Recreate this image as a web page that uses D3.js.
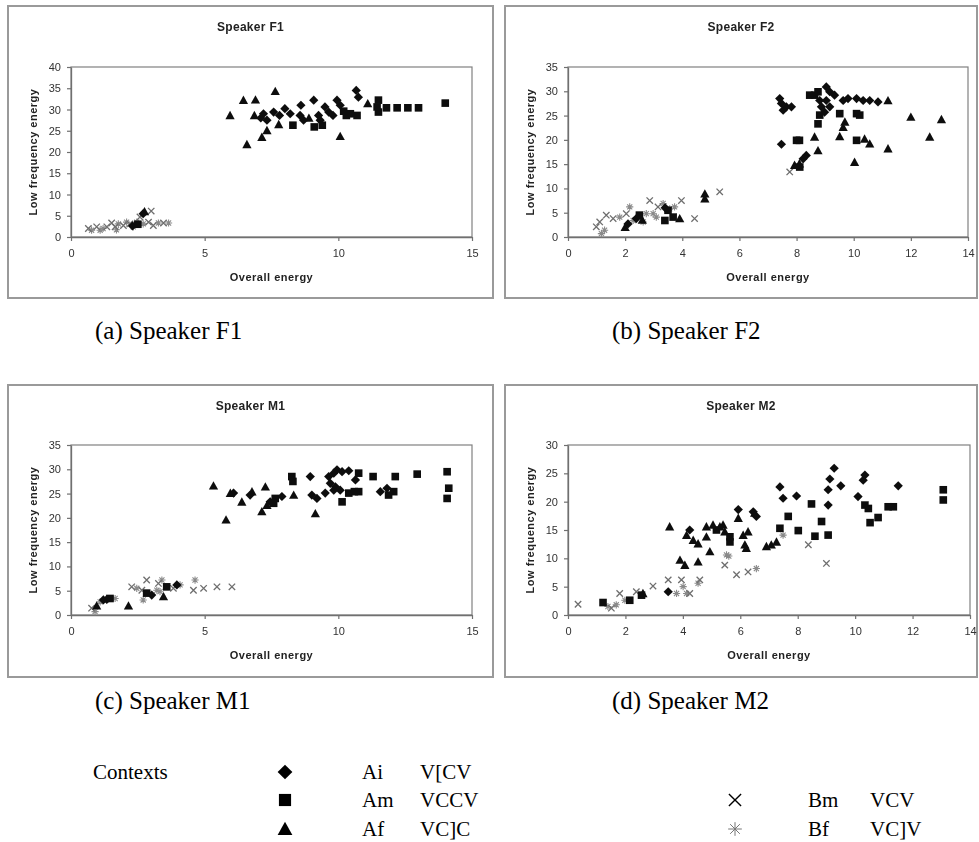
<!DOCTYPE html>
<html>
<head>
<meta charset="utf-8">
<script src="https://cdn.jsdelivr.net/npm/d3@7"></script>
<style>
  body { margin: 0; background: #fff; }
  svg { display: block; }
</style>
</head>
<body>
<svg id="fig" width="979" height="842"></svg>
<script>
// Overall energy (x) vs low-frequency energy (y) for each speaker and context.
// Contexts: Ai = V[CV, Am = VCCV, Af = VC]C, Bm = VCV, Bf = VC]V

const F1_Ai = [[7.2,29.0],[7.33,27.5],[7.58,29.4],[7.8,28.6],[8.0,30.2],[8.2,29.0],[8.57,28.6],[8.6,31.0],[8.7,27.5],[9.26,28.6],[9.32,27.5],[9.5,30.6],[9.64,29.4],[9.8,28.6],[9.95,32.2],[10.07,31.0],[10.67,34.5],[10.75,32.9],[9.08,32.2],[7.1,28.0],[2.7,5.5],[2.3,2.6]];
const F1_Am = [[14.0,31.5],[13.0,30.4],[12.6,30.4],[12.2,30.4],[11.8,30.4],[11.5,32.2],[11.45,30.6],[11.5,29.4],[10.45,29.0],[10.3,28.6],[10.7,28.6],[8.3,26.3],[9.1,25.9],[9.4,26.3],[10.2,29.6],[2.5,3.0]];
const F1_Af = [[5.95,28.6],[6.45,32.2],[6.9,32.3],[7.64,34.3],[6.58,21.8],[10.07,23.7],[7.77,26.5],[7.14,23.5],[7.33,25.1],[11.1,31.4],[6.86,28.6],[8.9,28.0],[2.75,6.0]];
const F1_Bm = [[0.65,2.0],[0.96,2.4],[1.34,2.4],[1.65,2.4],[1.96,2.7],[2.2,3.1],[2.58,4.7],[3.0,6.1],[3.08,2.7],[3.46,3.3],[1.52,3.3],[2.9,3.5]];
const F1_Bf = [[0.77,1.6],[1.09,1.6],[1.7,1.7],[1.77,3.1],[2.08,3.5],[2.46,3.5],[2.7,3.1],[3.27,3.3],[3.65,3.3],[2.33,2.4],[1.2,2.0]];

const F2_Ai = [[7.41,28.5],[7.47,27.5],[7.64,26.8],[7.82,26.8],[7.53,26.1],[7.47,19.1],[8.23,16.1],[8.34,16.8],[8.81,28.1],[8.87,26.8],[9.04,28.1],[9.16,26.8],[9.04,30.9],[9.16,29.9],[9.33,29.2],[9.63,28.1],[9.8,28.5],[10.1,28.5],[10.33,28.1],[10.56,28.1],[10.85,27.8],[8.98,25.7],[2.1,2.7],[2.39,3.8],[3.4,6.0]];
const F2_Am = [[8.0,19.9],[8.1,19.9],[8.75,23.3],[8.46,29.2],[8.63,29.2],[8.75,29.9],[8.81,25.1],[9.51,25.4],[10.1,25.4],[10.21,25.1],[10.1,19.9],[8.11,14.4],[3.39,3.4],[3.68,4.1],[2.5,4.5],[3.5,5.5]];
const F2_Af = [[8.63,20.6],[8.75,17.8],[9.63,22.6],[9.69,23.7],[9.51,20.7],[10.38,20.2],[10.56,19.2],[10.03,15.4],[11.2,18.2],[11.2,28.1],[12.0,24.7],[12.66,20.6],[13.07,24.2],[7.93,14.8],[8.1,15.1],[4.79,7.9],[4.79,8.9],[2.0,2.0],[3.91,3.8],[2.6,3.5]];
const F2_Bm = [[0.99,2.1],[1.34,4.5],[1.58,3.8],[2.04,4.8],[2.51,4.1],[2.86,7.5],[3.15,6.2],[3.97,7.5],[4.43,3.8],[5.31,9.3],[7.76,13.4],[1.11,3.1]];
const F2_Bf = [[1.28,1.4],[1.17,0.7],[1.81,4.1],[2.16,6.2],[2.28,3.4],[2.63,3.1],[2.74,4.8],[2.98,4.8],[3.33,6.9],[3.56,5.8],[3.73,6.2],[3.09,4.1]];

const M1_Ai = [[8.95,28.5],[9.01,24.7],[9.2,24.0],[9.51,25.1],[9.64,28.5],[9.83,29.2],[9.95,29.9],[10.14,29.5],[10.39,29.7],[9.7,27.1],[9.89,26.4],[9.83,25.7],[10.07,25.7],[10.64,27.8],[11.57,25.4],[11.82,26.1],[6.08,25.1],[6.7,24.7],[7.45,23.3],[7.89,24.4],[1.21,3.1],[1.34,3.2],[3.96,6.2],[3.02,4.1]];
const M1_Am = [[8.26,28.5],[8.3,27.5],[10.14,23.3],[10.39,25.1],[10.6,25.4],[10.76,29.2],[10.76,25.4],[11.3,28.5],[11.88,24.7],[12.07,25.4],[12.13,28.5],[12.95,29.0],[14.07,29.5],[14.13,26.1],[14.07,24.0],[7.58,23.0],[7.64,24.0],[1.46,3.4],[3.58,5.8],[2.83,4.5]];
const M1_Af = [[5.33,26.6],[5.8,19.6],[5.96,25.1],[6.39,23.3],[6.77,25.4],[7.27,26.4],[7.14,21.3],[7.33,22.6],[8.33,24.7],[9.14,20.9],[0.96,1.9],[2.15,1.9],[3.46,3.8]];
const M1_Bm = [[0.77,1.4],[2.27,5.8],[2.65,5.1],[2.83,7.2],[3.27,6.5],[3.83,5.5],[4.58,5.1],[5.46,5.8],[6.02,5.8],[4.96,5.5]];
const M1_Bf = [[0.9,0.7],[1.09,2.7],[1.65,3.4],[2.46,5.5],[2.7,3.1],[3.21,5.1],[3.4,7.2],[4.08,6.2],[4.64,7.2],[3.33,4.8]];

const M2_Ai = [[7.38,22.6],[7.49,20.6],[7.96,21.0],[9.06,19.4],[9.06,22.1],[9.12,24.0],[9.27,25.9],[9.5,22.8],[10.1,20.9],[10.28,23.8],[10.34,24.7],[11.5,22.8],[5.93,18.6],[6.45,18.2],[3.49,4.1],[4.24,15.0],[6.56,17.4]];
const M2_Am = [[7.38,15.3],[7.67,17.4],[8.02,14.9],[8.48,19.6],[8.6,13.9],[8.83,16.5],[9.06,14.1],[10.34,19.4],[10.46,18.8],[10.52,16.3],[10.8,17.2],[11.15,19.1],[11.33,19.1],[13.07,22.1],[13.07,20.3],[5.64,13.8],[5.64,12.9],[1.22,2.2],[2.56,3.5],[2.15,2.6],[5.17,15.0]];
const M2_Af = [[3.54,15.6],[3.9,9.7],[4.07,8.8],[4.13,14.1],[4.36,13.2],[4.53,12.6],[4.53,9.4],[4.82,13.8],[4.94,11.2],[4.82,15.6],[5.05,15.9],[5.29,15.6],[5.4,15.9],[5.46,14.7],[5.93,17.1],[6.1,14.1],[6.16,12.4],[6.21,11.8],[6.27,14.7],[6.91,12.1],[7.08,12.4],[7.26,12.9],[6.5,18.0],[2.61,3.8]];
const M2_Bm = [[0.35,1.9],[1.8,3.8],[2.38,4.1],[2.96,5.1],[3.49,6.2],[3.95,6.2],[4.24,3.8],[4.59,6.2],[5.46,8.8],[5.87,7.1],[6.27,7.6],[9.0,9.1],[8.37,12.4],[1.51,1.2]];
const M2_Bf = [[1.39,1.5],[1.68,1.8],[1.98,2.6],[3.78,3.8],[4.01,5.0],[4.13,3.8],[4.53,5.6],[5.52,10.6],[6.56,8.2],[7.49,14.1],[5.6,10.4]];

// Tick labels
const xTicks15 = [0, 5, 10, 15];
const xTicks14 = [0, 2, 4, 6, 8, 10, 12, 14];
const yTicks40 = [0, 5, 10, 15, 20, 25, 30, 35, 40];
const yTicks35 = [0, 5, 10, 15, 20, 25, 30, 35];
const yTicks30 = [0, 5, 10, 15, 20, 25, 30];

// Legend entries
const contextCodes = ["Ai", "Am", "Af", "Bm", "Bf"];
const contextLabels = ["V[CV", "VCCV", "VC]C", "VCV", "VC]V"];

const titles = ["Speaker F1", "Speaker F2", "Speaker M1", "Speaker M2"];
const captions = ["(a) Speaker F1", "(b) Speaker F2", "(c) Speaker M1", "(d) Speaker M2"];
const xAxisTitle = "Overall energy";
const yAxisTitle = "Low frequency energy";

// ---------------------------------------------------------------
const svg = d3.select("#fig");
const defs = svg.append("defs");
defs.append("filter").attr("id", "soft")
  .attr("x", "-5%").attr("y", "-5%").attr("width", "110%").attr("height", "110%")
  .append("feGaussianBlur").attr("stdDeviation", 0.75);

// marker shapes, scaled by s
function markerPath(code, s) {
  switch (code) {
    case "Ai": return `M0,${-4.6*s}L${4.6*s},0L0,${4.6*s}L${-4.6*s},0Z`;
    case "Am": return `M${-3.8*s},${-3.8*s}h${7.6*s}v${7.6*s}h${-7.6*s}Z`;
    case "Af": return `M0,${-4.6*s}L${4.6*s},${3.8*s}L${-4.6*s},${3.8*s}Z`;
    case "Bm": { const r = 3.2*s; return `M${-r},${-r}L${r},${r}M${-r},${r}L${r},${-r}`; }
    case "Bf": { const r = 3.6*s, d = r*0.7071;
      return `M0,${-r}V${r}M${-r},0H${r}M${-d},${-d}L${d},${d}M${-d},${d}L${d},${-d}`; }
  }
}
const markerStyle = {
  Ai: {fill: "#0a0a0a", stroke: "none", sw: 0},
  Am: {fill: "#0a0a0a", stroke: "none", sw: 0},
  Af: {fill: "#0a0a0a", stroke: "none", sw: 0},
  Bm: {fill: "none", stroke: "#6e6e6e", sw: 1.3},
  Bf: {fill: "none", stroke: "#8a8a8a", sw: 1.1}
};

const panels = [
  { frame: [8, 6, 485, 292], plot: [71, 67, 401, 170], xDomain: [0, 15], xTicks: xTicks15, yDomain: [0, 40], yTicks: yTicks40,
    series: {Bf: F1_Bf, Bm: F1_Bm, Af: F1_Af, Am: F1_Am, Ai: F1_Ai}, cap: [95, 339] },
  { frame: [505, 6, 472, 292], plot: [568, 67, 400, 170], xDomain: [0, 14], xTicks: xTicks14, yDomain: [0, 35], yTicks: yTicks35,
    series: {Bf: F2_Bf, Bm: F2_Bm, Af: F2_Af, Am: F2_Am, Ai: F2_Ai}, cap: [612, 339] },
  { frame: [8, 385, 485, 292], plot: [71, 445, 401, 170], xDomain: [0, 15], xTicks: xTicks15, yDomain: [0, 35], yTicks: yTicks35,
    series: {Bf: M1_Bf, Bm: M1_Bm, Af: M1_Af, Am: M1_Am, Ai: M1_Ai}, cap: [95, 709] },
  { frame: [505, 385, 472, 292], plot: [568, 445, 402, 170], xDomain: [0, 14], xTicks: xTicks14, yDomain: [0, 30], yTicks: yTicks30,
    series: {Bf: M2_Bf, Bm: M2_Bm, Af: M2_Af, Am: M2_Am, Ai: M2_Ai}, cap: [612, 709] }
];

panels.forEach((p, i) => {
  const [fx, fy, fw, fh] = p.frame;
  const [px, py, pw, ph] = p.plot;

  // outer chart frame
  svg.append("rect")
    .attr("x", fx).attr("y", fy).attr("width", fw).attr("height", fh)
    .attr("fill", "#fff").attr("stroke", "#9a9a9a").attr("stroke-width", 2);

  const g = svg.append("g").attr("filter", "url(#soft)");

  const x = d3.scaleLinear().domain(p.xDomain).range([px, px + pw]);
  const y = d3.scaleLinear().domain(p.yDomain).range([py + ph, py]);

  // plot area border
  g.append("rect")
    .attr("x", px).attr("y", py).attr("width", pw).attr("height", ph)
    .attr("fill", "none").attr("stroke", "#808080").attr("stroke-width", 1.2);

  const xAxis = g.append("g").attr("transform", `translate(0,${py + ph})`)
    .call(d3.axisBottom(x).tickValues(p.xTicks).tickSize(4).tickSizeOuter(0).tickPadding(8));
  const yAxis = g.append("g").attr("transform", `translate(${px},0)`)
    .call(d3.axisLeft(y).tickValues(p.yTicks).tickSize(4).tickSizeOuter(0).tickPadding(6));
  [xAxis, yAxis].forEach(a => {
    a.select(".domain").attr("stroke", "#707070").attr("stroke-width", 1.3);
    a.selectAll(".tick line").attr("stroke", "#707070").attr("stroke-width", 1.2);
    a.selectAll(".tick text")
      .attr("fill", "#333").attr("font-family", "Liberation Sans, Arial, sans-serif").attr("font-size", 11);
  });

  // titles
  g.append("text")
    .attr("x", fx + fw / 2).attr("y", fy + 25)
    .attr("text-anchor", "middle")
    .attr("font-family", "Liberation Sans, Arial, sans-serif").attr("font-weight", "bold")
    .attr("font-size", 12).attr("fill", "#222").attr("letter-spacing", 0.3)
    .text(titles[i]);
  g.append("text")
    .attr("x", px + pw / 2).attr("y", py + ph + 44)
    .attr("text-anchor", "middle")
    .attr("font-family", "Liberation Sans, Arial, sans-serif").attr("font-weight", "bold")
    .attr("font-size", 11).attr("fill", "#222").attr("letter-spacing", 0.5)
    .text(xAxisTitle);
  g.append("text")
    .attr("transform", `translate(${px - 34},${py + ph / 2}) rotate(-90)`)
    .attr("text-anchor", "middle")
    .attr("font-family", "Liberation Sans, Arial, sans-serif").attr("font-weight", "bold")
    .attr("font-size", 11).attr("fill", "#222").attr("letter-spacing", 0.5)
    .text(yAxisTitle);

  // points
  Object.entries(p.series).forEach(([code, pts]) => {
    const st = markerStyle[code];
    g.append("g").selectAll("path").data(pts).join("path")
      .attr("transform", d => `translate(${x(d[0])},${y(d[1])})`)
      .attr("d", markerPath(code, 1))
      .attr("fill", st.fill).attr("stroke", st.stroke).attr("stroke-width", st.sw);
  });

  // caption under the panel
  svg.append("text")
    .attr("x", p.cap[0]).attr("y", p.cap[1])
    .attr("font-family", "Liberation Serif, Times New Roman, serif")
    .attr("font-size", 25).attr("fill", "#000")
    .text(captions[i]);
});

// ---------------------------------------------------------------
// legend of contexts
const serif = "Liberation Serif, Times New Roman, serif";
svg.append("text").attr("x", 93).attr("y", 779)
  .attr("font-family", serif).attr("font-size", 21).text("Contexts");

const legendRows = [
  {code: "Ai", sx: 285, tx: 362, lx: 420, cy: 772},
  {code: "Am", sx: 285, tx: 362, lx: 420, cy: 800},
  {code: "Af", sx: 285, tx: 362, lx: 420, cy: 829},
  {code: "Bm", sx: 735, tx: 808, lx: 870, cy: 800},
  {code: "Bf", sx: 735, tx: 808, lx: 870, cy: 829}
];
legendRows.forEach(r => {
  const idx = contextCodes.indexOf(r.code);
  const grey = r.code === "Bf";
  svg.append("path")
    .attr("transform", `translate(${r.sx},${r.cy})`)
    .attr("d", markerPath(r.code, r.code.startsWith("A") ? 1.6 : 1.9))
    .attr("fill", r.code.startsWith("A") ? "#000" : "none")
    .attr("stroke", r.code.startsWith("A") ? "none" : (grey ? "#777" : "#000"))
    .attr("stroke-width", grey ? 1 : 1.4);
  svg.append("text").attr("x", r.tx).attr("y", r.cy + 7)
    .attr("font-family", serif).attr("font-size", 21).text(contextCodes[idx]);
  svg.append("text").attr("x", r.lx).attr("y", r.cy + 7)
    .attr("font-family", serif).attr("font-size", 21).text(contextLabels[idx]);
});
</script>
</body>
</html>
